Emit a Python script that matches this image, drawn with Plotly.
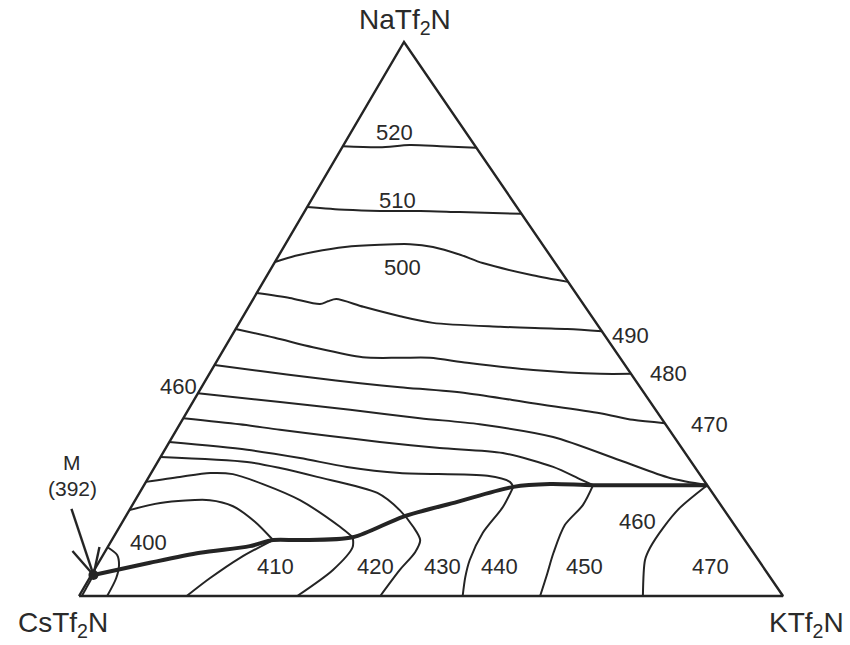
import plotly.graph_objects as go

# Ternary isotherms (°C) of the NaTf2N–KTf2N–CsTf2N system.
# Compositions in mol %: NA = NaTf2N, K = KTf2N  (CsTf2N = 100 - NA - K)

iso520_na = [81.2, 81.0, 81.4, 81.2, 80.9]
iso520_k = [0.0, 5.3, 9.4, 13.8, 19.1]

iso510_na = [70.2, 69.7, 69.5, 69.5, 69.3, 69.0]
iso510_k = [0.0, 5.6, 10.7, 16.4, 22.1, 31.0]

iso500_na = [60.3, 61.4, 62.1, 63.0, 63.4, 63.5, 63.0, 61.6, 60.1, 57.9, 56.7]
iso500_k = [0.0, 2.4, 4.6, 8.7, 13.5, 17.7, 21.2, 25.7, 29.6, 37.7, 43.3]

iso490_na = [54.7, 53.8, 52.7, 53.2, 53.6, 52.2, 50.5, 49.3, 48.6, 48.2, 47.8]
iso490_k = [0.0, 5.1, 9.9, 10.8, 11.8, 16.3, 22.3, 27.5, 37.4, 47.1, 52.2]

iso480_na = [48.2, 46.6, 44.9, 43.1, 43.0, 43.0, 42.1, 40.8, 40.1, 40.1]
iso480_k = [0.0, 6.3, 12.5, 20.4, 25.8, 30.0, 35.7, 45.7, 55.5, 59.9]

iso470_na = [41.7, 40.6, 39.4, 38.4, 37.7, 36.6, 34.8, 33.0, 31.8, 31.2]
iso470_k = [0.0, 7.0, 15.1, 22.2, 28.2, 38.2, 48.4, 58.8, 64.0, 68.8]

iso460_upper_na = [36.6, 35.0, 33.6, 32.1, 31.0, 28.7, 24.5, 21.3, 20.0]
iso460_upper_k = [0.0, 12.4, 23.0, 33.6, 42.6, 54.1, 65.5, 74.1, 80.0]
iso460_lower_na = [20.0, 15.9, 12.3, 8.7, 6.5, 0.0]
iso460_lower_k = [80.0, 78.0, 77.3, 77.1, 77.4, 80.1]

iso450_upper_na = [32.1, 31.0, 30.0, 28.9, 27.8, 26.7, 25.8, 23.3, 21.1, 20.0]
iso450_upper_k = [0.0, 8.5, 14.7, 22.3, 29.9, 38.9, 48.3, 56.6, 61.4, 63.8]
iso450_lower_na = [20.0, 16.4, 12.8, 7.8, 3.8, 0.0]
iso450_lower_k = [63.8, 64.0, 63.1, 63.8, 64.7, 65.5]

iso440_upper_na = [27.8, 26.4, 24.9, 23.3, 22.2, 21.7, 20.6, 19.7]
iso440_upper_k = [0.0, 11.7, 19.9, 27.3, 35.3, 48.0, 51.7, 52.6]
iso440_lower_na = [19.7, 16.1, 11.4, 6.5, 3.4, 0.0]
iso440_lower_k = [52.6, 52.8, 52.1, 52.5, 53.3, 54.5]

iso430_na = [25.1, 24.2, 23.1, 21.5, 18.6, 15.5, 12.5, 10.1, 7.9, 4.7, 0.0]
iso430_k = [0.0, 12.7, 17.9, 23.9, 33.8, 38.4, 41.7, 43.8, 44.1, 43.4, 42.8]

iso420_upper_na = [20.6, 21.5, 22.2, 22.0, 20.2, 17.3, 12.5, 10.6]
iso420_upper_k = [0.0, 4.4, 8.4, 11.7, 16.8, 23.4, 31.3, 34.0]
iso420_lower_na = [10.6, 8.8, 4.7, 0.0]
iso420_lower_k = [34.0, 34.8, 33.9, 31.0]

iso410_upper_na = [15.5, 16.8, 17.3, 16.2, 13.4, 10.1]
iso410_upper_k = [0.0, 3.8, 10.6, 14.4, 18.8, 22.9]
iso410_lower_na = [10.1, 6.9, 3.2, 0.0]
iso410_lower_k = [22.9, 19.7, 17.1, 15.3]

iso400_na = [8.8, 7.4, 5.6, 3.2, 0.0]
iso400_k = [0.0, 2.0, 3.1, 3.8, 4.0]

# eutectic / boundary valley (thick line) from M to the KTf2N–NaTf2N side
valley_na = [3.8, 6.0, 7.8, 9.0, 10.1, 10.1, 10.6, 14.3, 17.0, 19.7, 20.2, 20.0, 20.0]
valley_k = [0.3, 7.3, 13.6, 20.1, 22.9, 26.7, 34.0, 39.4, 45.9, 52.6, 57.6, 63.8, 80.0]

spur_na = [3.8, 0.0]
spur_k = [0.3, 0.4]

# ternary minimum M (392 °C)
m_na = [3.8]
m_k = [0.3]

# triangle corners: CsTf2N, KTf2N, NaTf2N
tri_na = [0, 0, 100, 0]
tri_k = [0, 100, 0, 0]

isotherm_labels = ["520", "510", "500", "490", "480", "470", "460", "400",
                   "410", "420", "430", "440", "450", "460", "470"]
corner_labels = ["NaTf<sub>2</sub>N", "CsTf<sub>2</sub>N", "KTf<sub>2</sub>N"]
m_labels = ["M", "(392)"]

# ---------------------------------------------------------------------------
W, H = 850, 645
X0, X1 = 79, 783      # pixel extent of the base
Y0, Y1 = 596, 42      # pixel rows of base and apex
SKEW = (404 - X0) / (X1 - X0)   # apex sits slightly left of centre as drawn

def to_xy(na, k):
    xs = [kk / 100 + SKEW * n / 100 for n, kk in zip(na, k)]
    ys = [n / 100 for n in na]
    return xs, ys

INK = "#242424"
fig = go.Figure()

def add_line(na, k, width=2.0, shape="spline"):
    x, y = to_xy(na, k)
    fig.add_trace(go.Scatter(x=x, y=y, mode="lines",
                             line=dict(color=INK, width=width, shape=shape, smoothing=0.8),
                             hoverinfo="skip", showlegend=False))

add_line(tri_na, tri_k, width=2.4, shape="linear")

curves = [
    (iso520_na, iso520_k), (iso510_na, iso510_k), (iso500_na, iso500_k),
    (iso490_na, iso490_k), (iso480_na, iso480_k), (iso470_na, iso470_k),
    (iso460_upper_na, iso460_upper_k), (iso460_lower_na, iso460_lower_k),
    (iso450_upper_na, iso450_upper_k), (iso450_lower_na, iso450_lower_k),
    (iso440_upper_na, iso440_upper_k), (iso440_lower_na, iso440_lower_k),
    (iso430_na, iso430_k),
    (iso420_upper_na, iso420_upper_k), (iso420_lower_na, iso420_lower_k),
    (iso410_upper_na, iso410_upper_k), (iso410_lower_na, iso410_lower_k),
    (iso400_na, iso400_k), (spur_na, spur_k),
]
for na, k in curves:
    add_line(na, k)

add_line(valley_na, valley_k, width=4.0)

mx, my = to_xy(m_na, m_k)
fig.add_trace(go.Scatter(x=mx, y=my, mode="markers",
                         marker=dict(color=INK, size=10),
                         hoverinfo="skip", showlegend=False))

# label placement (pixel positions of label centres)
iso_label_pos = [(394, 132), (397, 200), (402, 267), (630, 335), (668, 373),
                 (709, 425), (178, 386), (148, 542), (275, 566), (375, 566),
                 (443, 566), (499, 566), (584, 566), (637, 521), (710, 566)]
FONT = "Liberation Sans, Arial, sans-serif"
ann = []
for txt, (px, py) in zip(isotherm_labels, iso_label_pos):
    ann.append(dict(x=px / W, y=1 - py / H, xref="paper", yref="paper", text=txt,
                    showarrow=False, xanchor="center", yanchor="middle",
                    font=dict(family=FONT, size=22, color="#2a2a2a")))
corner_pos = [(405, 22), (63, 624), (806, 624)]
for txt, (px, py) in zip(corner_labels, corner_pos):
    ann.append(dict(x=px / W, y=1 - py / H, xref="paper", yref="paper", text=txt,
                    showarrow=False, xanchor="center", yanchor="middle",
                    font=dict(family=FONT, size=28, color="#2a2a2a")))
for txt, (px, py) in zip(m_labels, [(72, 462), (72, 489)]):
    ann.append(dict(x=px / W, y=1 - py / H, xref="paper", yref="paper", text=txt,
                    showarrow=False, xanchor="center", yanchor="middle",
                    font=dict(family=FONT, size=21, color="#2a2a2a")))

# open arrow pointing at M: shaft plus two arms, anchored at M with pixel offsets
arrow_segments = [(-22, 66), (-21, 24), (6, 28)]
shapes = []
for dx, dy in arrow_segments:
    shapes.append(dict(type="line", xref="x", yref="y",
                       xsizemode="pixel", ysizemode="pixel",
                       xanchor=mx[0], yanchor=my[0],
                       x0=0, y0=0, x1=dx, y1=dy,
                       line=dict(color=INK, width=2.4)))

fig.update_layout(
    width=W, height=H, margin=dict(l=0, r=0, t=0, b=0),
    paper_bgcolor="white", plot_bgcolor="white",
    xaxis=dict(range=[-X0 / (X1 - X0), (W - X0) / (X1 - X0)], visible=False, fixedrange=True),
    yaxis=dict(range=[-(H - Y0) / (Y0 - Y1), Y0 / (Y0 - Y1)], visible=False, fixedrange=True),
    annotations=ann, shapes=shapes, showlegend=False,
)
fig.write_html("out.html", config={"displayModeBar": False},
               post_script="document.body.style.margin='0';document.body.style.overflow='hidden';")
